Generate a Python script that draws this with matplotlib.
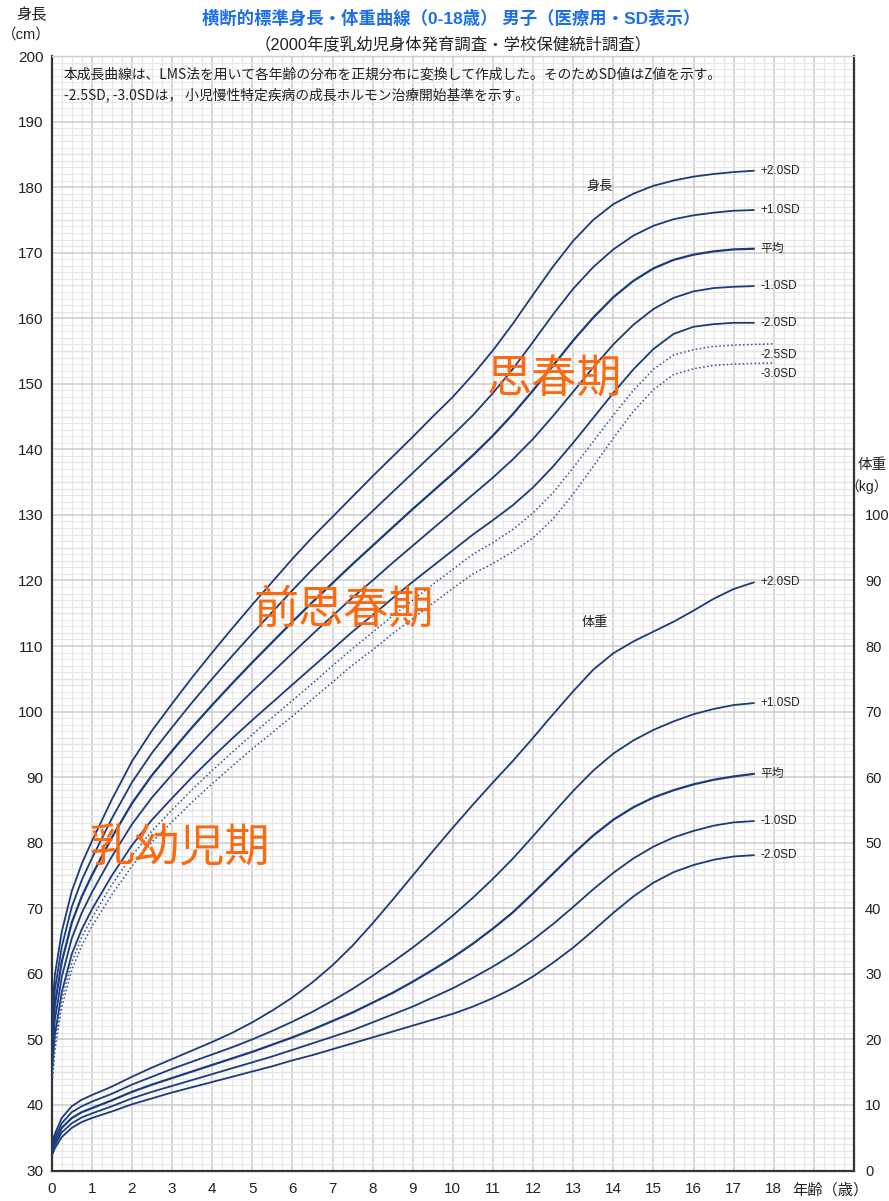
import matplotlib
matplotlib.use("Agg")
import matplotlib.pyplot as plt
from matplotlib.ticker import MultipleLocator, FixedLocator, FixedFormatter

plt.rcParams['font.family'] = ['Liberation Sans', 'Noto Sans CJK JP', 'DejaVu Sans']

# ---- data -------------------------------------------------------------
ages = [0, 0.08, 0.25, 0.5, 0.75, 1, 1.5, 2, 2.5, 3, 3.5, 4, 4.5, 5, 5.5, 6,
        6.5, 7, 7.5, 8, 8.5, 9, 9.5, 10, 10.5, 11, 11.5, 12, 12.5, 13, 13.5,
        14, 14.5, 15, 15.5, 16, 16.5, 17, 17.5]
ages_ext = ages + [18]

# height (cm)
h_p2 = [53.4, 59.9, 66.4, 72.6, 76.8, 80.2, 86.6, 92.4, 97.1, 101.2, 105.2, 109.0,
        112.7, 116.3, 119.8, 123.3, 126.6, 129.7, 132.8, 135.9, 138.9, 141.9, 145.0,
        148.0, 151.4, 155.1, 159.2, 163.6, 167.9, 171.8, 175.0, 177.4, 179.0, 180.2,
        181.0, 181.6, 182.0, 182.3, 182.5]
h_p1 = [51.2, 57.6, 64.1, 70.2, 74.3, 77.6, 83.7, 89.2, 93.7, 97.6, 101.4, 105.0,
        108.5, 111.9, 115.2, 118.5, 121.7, 124.7, 127.7, 130.6, 133.5, 136.4, 139.3,
        142.2, 145.2, 148.6, 152.3, 156.4, 160.6, 164.5, 167.8, 170.5, 172.6, 174.1,
        175.1, 175.7, 176.1, 176.4, 176.5]
h_m = [49.0, 55.3, 61.8, 67.8, 71.8, 75.0, 80.8, 86.0, 90.3, 94.0, 97.6, 101.0,
       104.3, 107.5, 110.6, 113.7, 116.7, 119.6, 122.5, 125.3, 128.1, 130.9, 133.6,
       136.3, 139.1, 142.1, 145.4, 149.0, 152.8, 156.6, 160.1, 163.2, 165.7, 167.6,
       168.9, 169.7, 170.2, 170.5, 170.6]
h_m1 = [46.8, 53.0, 59.5, 65.4, 69.3, 72.4, 77.9, 82.8, 86.9, 90.4, 93.8, 97.0,
        100.1, 103.1, 106.0, 108.9, 111.8, 114.6, 117.4, 120.0, 122.7, 125.3, 127.9,
        130.5, 133.1, 135.7, 138.5, 141.6, 145.1, 148.8, 152.5, 156.0, 159.0, 161.4,
        163.1, 164.1, 164.6, 164.8, 164.9]
h_m2 = [44.6, 50.7, 57.2, 63.0, 66.8, 69.8, 75.0, 79.6, 83.5, 86.8, 90.0, 93.0,
        95.9, 98.7, 101.4, 104.1, 106.8, 109.5, 112.2, 114.7, 117.3, 119.8, 122.2,
        124.6, 127.0, 129.2, 131.5, 134.2, 137.4, 141.0, 144.8, 148.6, 152.2, 155.3,
        157.6, 158.7, 159.1, 159.3, 159.3]
h_m25 = [43.5, 49.6, 56.1, 61.8, 65.6, 68.5, 73.6, 78.0, 81.8, 85.0, 88.1, 91.0,
         93.8, 96.5, 99.1, 101.7, 104.3, 107.0, 109.6, 112.1, 114.6, 117.0, 119.4,
         121.7, 124.0, 125.8, 127.8, 130.3, 133.4, 137.2, 141.2, 145.2, 149.0, 152.2,
         154.4, 155.2, 155.7, 155.9, 156.0, 156.1]
h_m3 = [42.4, 48.4, 54.9, 60.6, 64.3, 67.2, 72.1, 76.4, 80.1, 83.2, 86.2, 89.0,
        91.7, 94.3, 96.8, 99.3, 101.9, 104.5, 107.1, 109.4, 111.9, 114.2, 116.5,
        118.8, 121.0, 122.6, 124.4, 126.5, 129.4, 133.2, 137.4, 141.7, 145.8, 149.1,
        151.4, 152.3, 152.8, 153.0, 153.1, 153.2]

# weight (kg)
w_p2 = [3.9, 5.6, 8.0, 9.8, 10.8, 11.5, 12.8, 14.3, 15.7, 17.0, 18.3, 19.6, 21.0,
        22.6, 24.4, 26.4, 28.7, 31.3, 34.3, 37.7, 41.3, 45.0, 48.7, 52.3, 55.8,
        59.2, 62.5, 66.0, 69.6, 73.1, 76.4, 78.9, 80.7, 82.2, 83.7, 85.4, 87.2,
        88.7, 89.7]
w_p1 = [3.4, 5.0, 7.2, 8.9, 9.8, 10.5, 11.7, 13.1, 14.3, 15.5, 16.6, 17.7, 18.8,
        20.0, 21.3, 22.7, 24.2, 25.9, 27.7, 29.7, 31.8, 34.0, 36.4, 38.9, 41.6,
        44.5, 47.6, 51.0, 54.5, 57.9, 61.0, 63.6, 65.6, 67.2, 68.5, 69.6, 70.4,
        71.0, 71.3]
w_m = [3.0, 4.4, 6.5, 8.0, 8.9, 9.5, 10.7, 12.0, 13.1, 14.1, 15.1, 16.1, 17.1,
       18.1, 19.2, 20.3, 21.5, 22.8, 24.1, 25.6, 27.1, 28.8, 30.6, 32.5, 34.6,
       36.9, 39.4, 42.3, 45.3, 48.3, 51.1, 53.5, 55.4, 56.9, 58.0, 58.9, 59.6,
       60.1, 60.5]
w_m1 = [2.6, 3.9, 5.8, 7.2, 8.1, 8.7, 9.8, 11.0, 12.0, 12.9, 13.8, 14.7, 15.6,
        16.5, 17.4, 18.4, 19.4, 20.4, 21.4, 22.6, 23.8, 25.0, 26.4, 27.8, 29.4,
        31.1, 33.0, 35.2, 37.6, 40.2, 42.9, 45.4, 47.6, 49.4, 50.8, 51.8, 52.6,
        53.1, 53.3]
w_m2 = [2.2, 3.4, 5.1, 6.5, 7.4, 8.0, 9.0, 10.1, 11.0, 11.9, 12.7, 13.5, 14.3,
        15.1, 15.9, 16.8, 17.6, 18.5, 19.4, 20.3, 21.2, 22.1, 23.0, 23.9, 25.0,
        26.3, 27.8, 29.6, 31.7, 34.0, 36.6, 39.3, 41.8, 43.9, 45.5, 46.6, 47.4,
        47.9, 48.1]

sd_labels = ['+2.0SD', '+1.0SD', '平均', '-1.0SD', '-2.0SD']
dot_labels = ['-2.5SD', '-3.0SD']
x_ticks = list(range(0, 19))
h_ticks = list(range(30, 201, 10))
w_ticks = list(range(0, 101, 10))

# ---- figure -----------------------------------------------------------
W, H = 889, 1201
fig = plt.figure(figsize=(W / 100, H / 100), dpi=100)
ax = fig.add_axes([51.7 / W, 1 - 1170.5 / H, (854 - 51.7) / W, (1170.5 - 56) / H])
ax.set_xlim(0, 20)
ax.set_ylim(30, 200)

# grid paper
ax.xaxis.set_minor_locator(MultipleLocator(0.25))
ax.yaxis.set_major_locator(FixedLocator(h_ticks))
ax.yaxis.set_minor_locator(MultipleLocator(1))
ax.grid(which='minor', color='#e6e6e6', lw=0.8, zorder=0)
ax.grid(which='major', color='#cfcfcf', lw=1.2, zorder=0)
for v in range(35, 200, 10):
    ax.axhline(v, color='#dadada', lw=1.0, zorder=0)
ax.set_axisbelow(True)

ax.xaxis.set_major_locator(FixedLocator(list(range(0, 21))))
ax.xaxis.set_major_formatter(FixedFormatter([str(i) if i in x_ticks else '' for i in range(0, 21)]))
ax.tick_params(axis='both', which='both', length=0, labelsize=11, colors='#222222')
ax.tick_params(axis='x', pad=8)
ax.tick_params(axis='y', pad=6)

for s in ('left', 'bottom', 'right'):
    ax.spines[s].set_color('#333333')
    ax.spines[s].set_linewidth(1.6)
ax.spines['top'].set_color('#cccccc')
ax.spines['top'].set_linewidth(1.0)

line_c = '#1b3b7b'
ax.plot(ages, h_p2, color=line_c, lw=1.3, zorder=3)
ax.plot(ages, h_p1, color=line_c, lw=1.3, zorder=3)
ax.plot(ages, h_m, color=line_c, lw=1.6, zorder=3)
ax.plot(ages, h_m1, color=line_c, lw=1.3, zorder=3)
ax.plot(ages, h_m2, color=line_c, lw=1.3, zorder=3)
ax.plot(ages_ext, h_m25, color='#2f5199', lw=1.1, ls=(0, (1, 1.6)), zorder=3)
ax.plot(ages_ext, h_m3, color='#2f5199', lw=1.1, ls=(0, (1, 1.6)), zorder=3)

# weight on its own scale (0 kg at the 30 cm line)
ax2 = ax.twinx()
ax2.set_ylim(0, 170)
ax2.yaxis.set_major_locator(FixedLocator(w_ticks))
ax2.tick_params(axis='y', length=0, labelsize=10.5, colors='#222222', pad=8)
for s in ax2.spines.values():
    s.set_visible(False)
ax2.plot(ages, w_p2, color=line_c, lw=1.3)
ax2.plot(ages, w_p1, color=line_c, lw=1.3)
ax2.plot(ages, w_m, color=line_c, lw=1.6)
ax2.plot(ages, w_m1, color=line_c, lw=1.3)
ax2.plot(ages, w_m2, color=line_c, lw=1.3)

# curve labels
lab_x = 17.67
for lab, ser in zip(sd_labels, [h_p2, h_p1, h_m, h_m1, h_m2]):
    ax.text(lab_x, ser[-1], lab, fontsize=8.5, va='center', ha='left', color='#222222')
for lab, ser in zip(dot_labels, [h_m25, h_m3]):
    ax.text(lab_x, ser[-1] - 1.7, lab, fontsize=8.5, va='center', ha='left', color='#222222')
for lab, ser in zip(sd_labels, [w_p2, w_p1, w_m, w_m1, w_m2]):
    ax2.text(lab_x, ser[-1], lab, fontsize=8.5, va='center', ha='left', color='#222222')

ax.text(13.65, 180.0, '身長', fontsize=9.5, ha='center', va='center', color='#222222')
ax2.text(13.55, 83.5, '体重', fontsize=9.5, ha='center', va='center', color='#222222')

# phases
orange = '#fb6a10'
phase_font = ['Noto Sans CJK JP']
ax.text(3.2, 79.2, '乳幼児期', fontsize=32.5, ha='center', va='center', color=orange,
        family=phase_font)
ax.text(7.28, 115.6, '前思春期', fontsize=32.5, ha='center', va='center', color=orange,
        family=phase_font)
ax.text(12.54, 150.6, '思春期', fontsize=32.5, ha='center', va='center', color=orange,
        family=phase_font)

# note
note_font = ['Noto Sans CJK JP', 'DejaVu Sans']
ax.text(0.3, 197.2, '本成長曲線は、LMS法を用いて各年齢の分布を正規分布に変換して作成した。そのためSD値はZ値を示す。',
        fontsize=9.95, ha='left', va='center', color='#222222', family=note_font)
ax.text(0.3, 194.1, '-2.5SD, -3.0SDは， 小児慢性特定疾病の成長ホルモン治療開始基準を示す。',
        fontsize=9.95, ha='left', va='center', color='#222222', family=note_font)

# titles and axis captions
fig.text(451 / W, 1 - 18 / H, '横断的標準身長・体重曲線（0-18歳） 男子（医療用・SD表示）',
         fontsize=12.5, weight='bold', color='#1c6fe8', ha='center', va='center')
fig.text(453 / W, 1 - 44 / H, '（2000年度乳幼児身体発育調査・学校保健統計調査）',
         fontsize=11.8, color='#222222', ha='center', va='center')
fig.text(32 / W, 1 - 15 / H, '身長', fontsize=11, ha='center', va='center', color='#222222')
fig.text(2 / W, 1 - 35 / H, '（cm）', fontsize=10.5, ha='left', va='center', color='#222222')
fig.text(887 / W, 1 - 465 / H, '体重', fontsize=10.5, ha='right', va='center', color='#222222')
fig.text(888 / W, 1 - 487 / H, '（kg）', fontsize=10, ha='right', va='center', color='#222222')
fig.text(830 / W, 1 - 1190 / H, '年齢（歳）', fontsize=11, ha='center', va='center', color='#222222')

fig.savefig('out.png', dpi=100, facecolor='white')
